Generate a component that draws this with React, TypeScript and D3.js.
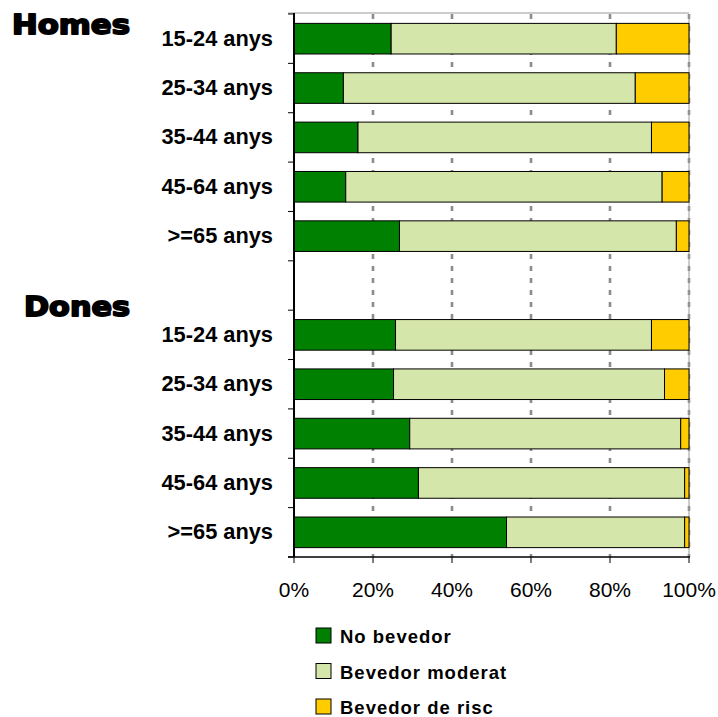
import React from "react";
import * as d3 from "d3";

const groups = ["Homes", "Dones"];
const ageLabels = ["15-24 anys", "25-34 anys", "35-44 anys", "45-64 anys", ">=65 anys"];
const seriesNames = ["No bevedor", "Bevedor moderat", "Bevedor de risc"];
const seriesColors = ["#008000", "#D5E6AA", "#FFCC00"];

// Homes
const homesNoBevedor = [24.6, 12.5, 16.2, 13.1, 26.7];
const homesModerat = [57.0, 73.9, 74.3, 80.1, 70.1];
const homesRisc = [18.4, 13.6, 9.5, 6.8, 3.2];
// Dones
const donesNoBevedor = [25.7, 25.2, 29.3, 31.5, 53.8];
const donesModerat = [64.8, 68.6, 68.6, 67.4, 45.1];
const donesRisc = [9.5, 6.2, 2.1, 1.1, 1.1];

const xTicks = [0, 20, 40, 60, 80, 100];

export default function App() {
  const W = 718, H = 717;
  const left = 294, right = 689, top = 14, bottom = 557;

  type Row = { id: string; label: string; vals: number[] };
  const rows: Row[] = [];
  ageLabels.forEach((a, i) =>
    rows.push({ id: "H" + i, label: a, vals: [homesNoBevedor[i], homesModerat[i], homesRisc[i]] })
  );
  rows.push({ id: "gap", label: "", vals: [] });
  ageLabels.forEach((a, i) =>
    rows.push({ id: "D" + i, label: a, vals: [donesNoBevedor[i], donesModerat[i], donesRisc[i]] })
  );

  const x = d3.scaleLinear().domain([0, 100]).range([left, right]);
  const y = d3
    .scaleBand<string>()
    .domain(rows.map((r) => r.id))
    .range([top, bottom])
    .paddingInner(0.38)
    .paddingOuter(0.19);
  const step = y.step();
  const boundaries = d3.range(rows.length + 1).map((i) => top + i * step);

  const font = "'Liberation Sans', Arial, sans-serif";
  const heavy = "'DejaVu Sans', 'Liberation Sans', sans-serif";

  return (
    <svg width={W} height={H} style={{ position: "absolute", left: 0, top: 0 }}>
      <rect width={W} height={H} fill="#fff" />
      {/* gridlines */}
      {xTicks.slice(1).map((t) => (
        <line key={"g" + t} x1={x(t)} x2={x(t)} y1={top} y2={bottom}
          stroke="#8c8c8c" strokeWidth={2.6} strokeDasharray="5,7" />
      ))}
      {/* top & right border */}
      <line x1={288} x2={right} y1={top - 1} y2={top - 1} stroke="#999" strokeWidth={1.2} />
      <line x1={right} x2={right} y1={top} y2={bottom} stroke="#999" strokeWidth={1} />
      {/* bars */}
      {rows.map((r) => {
        let acc = 0;
        return r.vals.map((v, k) => {
          const x0 = x(acc);
          acc += v;
          const x1 = x(Math.min(acc, 100));
          return (
            <rect key={r.id + k} x={x0} y={y(r.id)} width={Math.max(0, x1 - x0)} height={y.bandwidth()}
              fill={seriesColors[k]} stroke="#000" strokeWidth={1} />
          );
        });
      })}
      {/* left axis */}
      <line x1={left} x2={left} y1={top - 1} y2={bottom} stroke="#000" strokeWidth={2} />
      {boundaries.map((b, i) => (
        <line key={"yt" + i} x1={288} x2={left} y1={b} y2={b} stroke="#000" strokeWidth={1} />
      ))}
      {/* bottom axis */}
      <line x1={288} x2={right + 1} y1={bottom} y2={bottom} stroke="#000" strokeWidth={1.5} />
      {xTicks.map((t) => (
        <line key={"xt" + t} x1={x(t)} x2={x(t)} y1={bottom} y2={bottom + 6} stroke="#000" strokeWidth={1} />
      ))}
      {xTicks.map((t) => (
        <text key={"xl" + t} x={x(t)} y={597} textAnchor="middle" fontFamily={font} fontSize={21} fill="#000">
          {t + "%"}
        </text>
      ))}
      {/* category labels */}
      {rows.filter((r) => r.label).map((r) => (
        <text key={"cl" + r.id} x={273} y={(y(r.id) as number) + y.bandwidth() / 2 + 7}
          textAnchor="end" fontFamily={font} fontWeight="bold" fontSize={21.8} fill="#000">
          {r.label}
        </text>
      ))}
      {/* group labels */}
      <text x={12} y={34} fontFamily={heavy} fontWeight={900} fontSize={27}
        stroke="#000" strokeWidth={1.8} strokeLinejoin="round"
        textLength={118} lengthAdjust="spacingAndGlyphs" fill="#000">{groups[0]}</text>
      <text x={24} y={316} fontFamily={heavy} fontWeight={900} fontSize={27}
        stroke="#000" strokeWidth={1.8} strokeLinejoin="round"
        textLength={106} lengthAdjust="spacingAndGlyphs" fill="#000">{groups[1]}</text>
      {/* legend */}
      {seriesNames.map((s, i) => (
        <g key={"lg" + i} transform={`translate(316, ${628 + i * 35.5})`}>
          <rect x={0} y={0} width={15} height={15} fill={seriesColors[i]} stroke="#000" strokeWidth={1} />
          <text x={24} y={15} fontFamily={font} fontWeight="bold" fontSize={18.5} letterSpacing={1} fill="#000">
            {s}
          </text>
        </g>
      ))}
    </svg>
  );
}
